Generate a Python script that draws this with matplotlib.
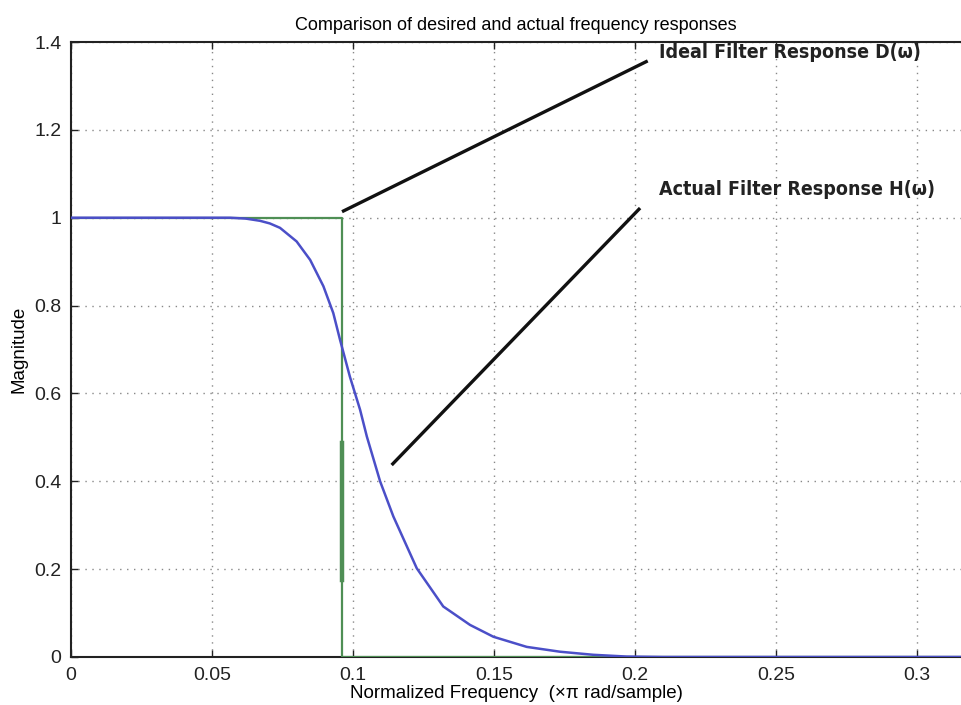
import numpy as np
import matplotlib.pyplot as plt

# actual filter response H(w)
freq_actual = [0, 0.0564, 0.062, 0.067, 0.0705, 0.0741, 0.080, 0.0848, 0.0895,
               0.093, 0.0954, 0.0989, 0.1025, 0.1049, 0.1096, 0.1143, 0.1226,
               0.132, 0.1415, 0.1498, 0.1616, 0.1734, 0.1852, 0.197, 0.21, 0.3156]
mag_actual = [1, 1, 0.998, 0.993, 0.987, 0.977, 0.946, 0.904, 0.844,
              0.783, 0.722, 0.638, 0.563, 0.502, 0.40, 0.32, 0.202,
              0.115, 0.073, 0.046, 0.023, 0.012, 0.005, 0.001, 0, 0]

# ideal filter response D(w)
cutoff = 0.096
freq_ideal = [0, cutoff, cutoff, 0.3156]
mag_ideal = [1, 1, 0, 0]

xticks = [0, 0.05, 0.1, 0.15, 0.2, 0.25, 0.3]
xlabels = ['0', '0.05', '0.1', '0.15', '0.2', '0.25', '0.3']
yticks = [0, 0.2, 0.4, 0.6, 0.8, 1.0, 1.2, 1.4]
ylabels = ['0', '0.2', '0.4', '0.6', '0.8', '1', '1.2', '1.4']

plt.rcParams['font.family'] = ['Liberation Sans', 'DejaVu Sans']

fig = plt.figure(figsize=(9.61, 7.05), dpi=100)
ax = fig.add_axes([0.0739, 0.0681, 0.9261, 0.8723])

green = '#4f8f55'
blue = '#4b4fc8'
ax.plot(freq_ideal, mag_ideal, color=green, lw=1.6, zorder=3)
ax.plot([cutoff, cutoff], [0.175, 0.487], color=green, lw=3.2, zorder=3)
ax.plot(freq_actual, mag_actual, color=blue, lw=1.8, zorder=4)

# pointer lines to the labels
ax.plot([0.0961, 0.2045], [1.0137, 1.357], color='#111111', lw=2.4, solid_capstyle='butt')
ax.plot([0.1137, 0.2018], [0.437, 1.022], color='#111111', lw=2.4, solid_capstyle='butt')

ax.text(0.2085, 1.377, 'Ideal Filter Response D(\u03c9)', family='DejaVu Sans',
        stretch='condensed', fontsize=14, fontweight='bold', color='#222222',
        va='center', ha='left')
ax.text(0.2085, 1.064, 'Actual Filter Response H(\u03c9)', family='DejaVu Sans',
        stretch='condensed', fontsize=14, fontweight='bold', color='#222222',
        va='center', ha='left')

ax.set_xlim(0, 0.3156)
ax.set_ylim(0, 1.4)
ax.set_xticks(xticks)
ax.set_xticklabels(xlabels)
ax.set_yticks(yticks)
ax.set_yticklabels(ylabels)
ax.tick_params(direction='in', length=5, width=1, labelsize=14, top=True,
               colors='#222222', pad=7)
ax.grid(True, linestyle=(0, (1, 4)), color='#888888', lw=1.0)

for side in ['left', 'bottom', 'top']:
    ax.spines[side].set_linewidth(1.5)
    ax.spines[side].set_color('#222222')
ax.spines['right'].set_visible(False)

ax.set_title('Comparison of desired and actual frequency responses', fontsize=13, pad=9)
ax.set_xlabel('Normalized Frequency  (\u00d7\u03c0 rad/sample)', fontsize=13.5, labelpad=1)
ax.set_ylabel('Magnitude', fontsize=13.5, labelpad=5)

fig.savefig('out.png', dpi=100)
